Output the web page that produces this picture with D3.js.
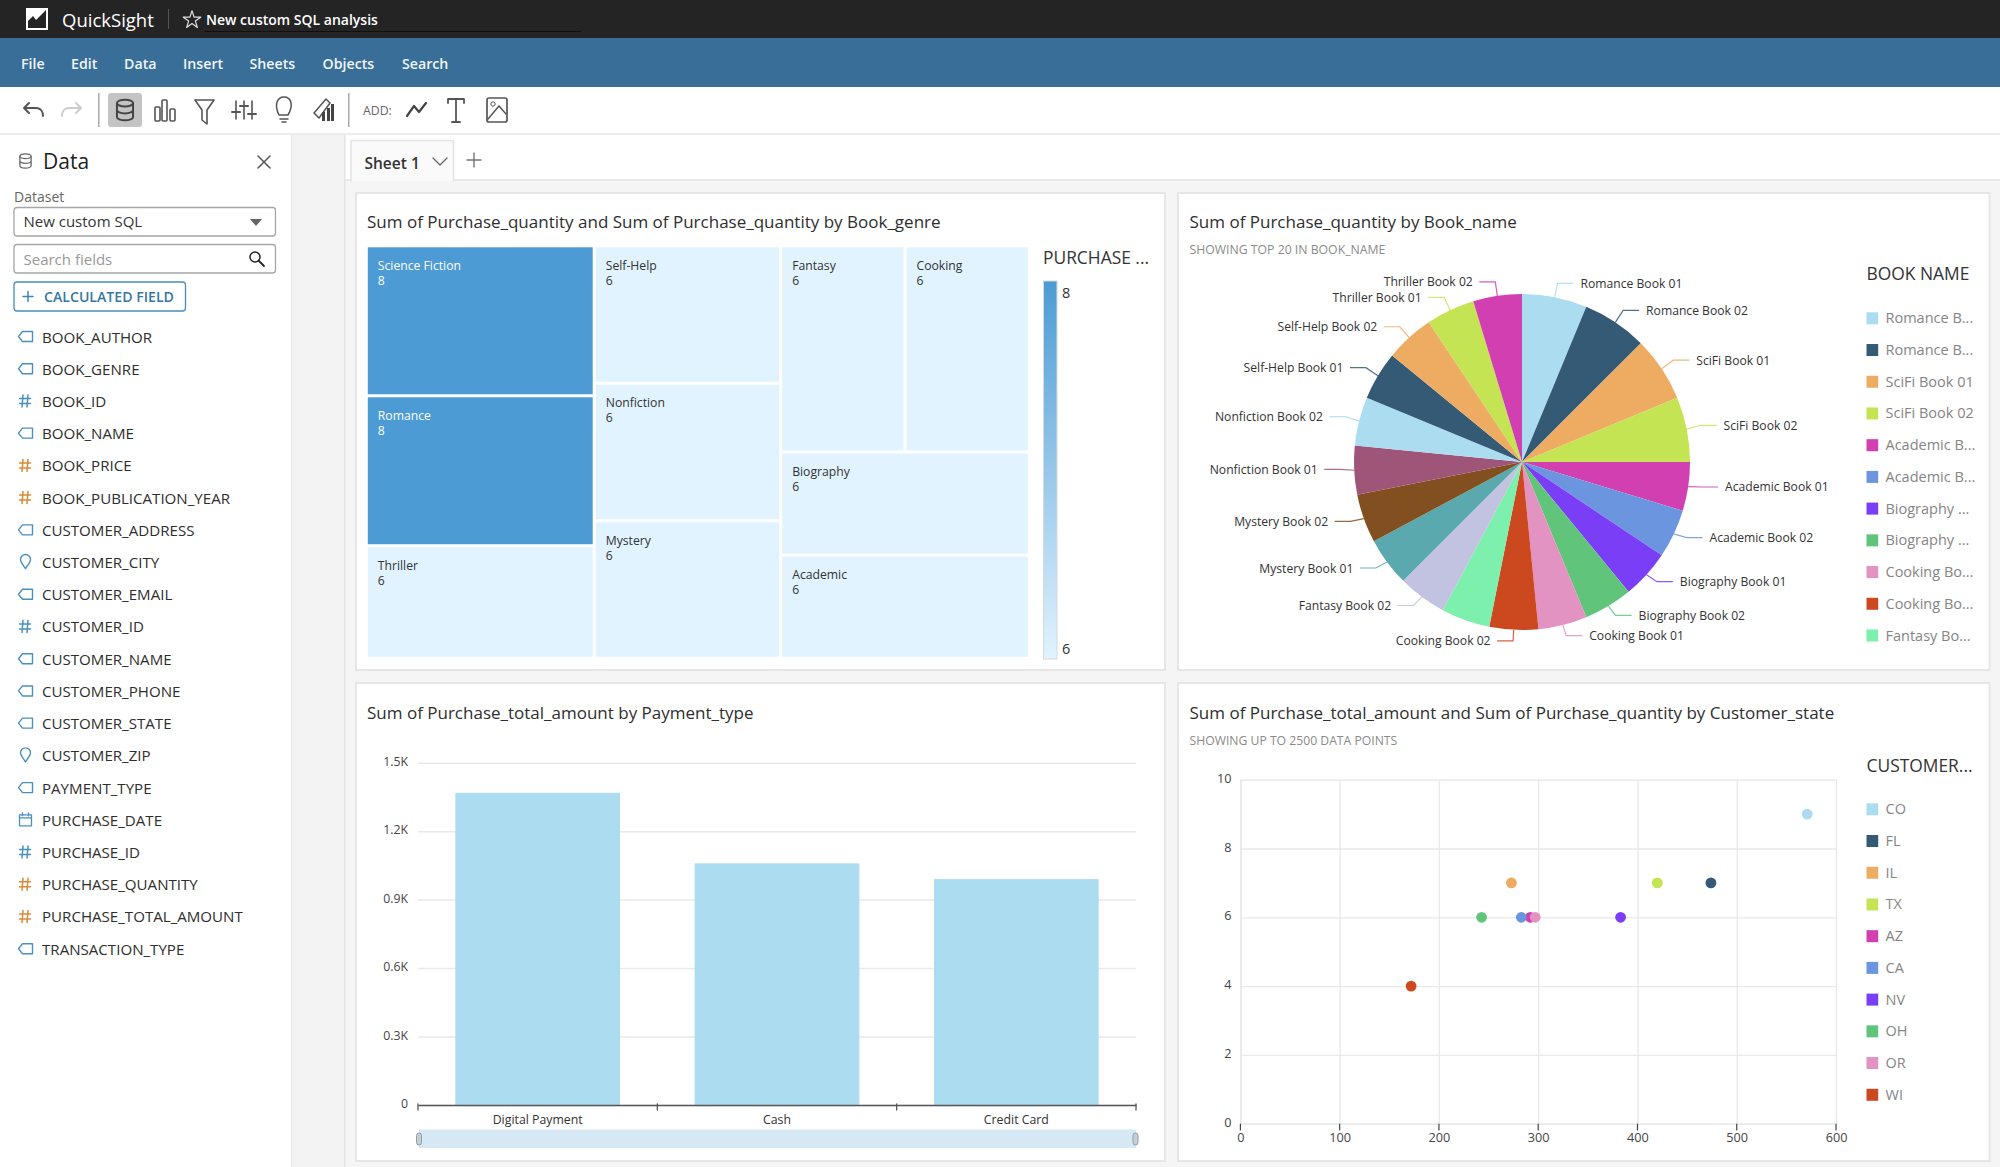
<!DOCTYPE html>
<html><head><meta charset="utf-8">
<script src="https://cdn.jsdelivr.net/npm/d3@7"></script>
<style>html,body{margin:0;padding:0;background:#fff;overflow:hidden}svg{display:block}text{font-family:"Open Sans",sans-serif}</style>
</head><body><svg id="c" width="2000" height="1167"></svg>
<script>
// ---------- data ----------
const menuItems = ["File","Edit","Data","Insert","Sheets","Objects","Search"];
const fieldNames = ["BOOK_AUTHOR","BOOK_GENRE","BOOK_ID","BOOK_NAME","BOOK_PRICE","BOOK_PUBLICATION_YEAR","CUSTOMER_ADDRESS","CUSTOMER_CITY","CUSTOMER_EMAIL","CUSTOMER_ID","CUSTOMER_NAME","CUSTOMER_PHONE","CUSTOMER_STATE","CUSTOMER_ZIP","PAYMENT_TYPE","PURCHASE_DATE","PURCHASE_ID","PURCHASE_QUANTITY","PURCHASE_TOTAL_AMOUNT","TRANSACTION_TYPE"];
const fieldKinds = ["tag","tag","id","tag","num","num","tag","geo","tag","id","tag","tag","tag","geo","tag","date","id","num","num","tag"];

const genreNames = ["Science Fiction","Romance","Thriller","Self-Help","Nonfiction","Mystery","Fantasy","Cooking","Biography","Academic"];
const genreValues = [8,8,6,6,6,6,6,6,6,6];
const genreColumns = [["Science Fiction","Romance","Thriller"],["Self-Help","Nonfiction","Mystery"],[["Fantasy","Cooking"],"Biography","Academic"]];
const genreColorRange = ["#e1f3fe","#4c9bd4"];

const bookNames = ["Romance Book 01","Romance Book 02","SciFi Book 01","SciFi Book 02","Academic Book 01","Academic Book 02","Biography Book 01","Biography Book 02","Cooking Book 01","Cooking Book 02","Fantasy Book 01","Fantasy Book 02","Mystery Book 01","Mystery Book 02","Nonfiction Book 01","Nonfiction Book 02","Self-Help Book 01","Self-Help Book 02","Thriller Book 01","Thriller Book 02"];
const bookValues = [4,4,4,4,3,3,3,3,3,3,3,3,3,3,3,3,3,3,3,3];
const bookColors = ["#acdcf0","#345a75","#eeac63","#c4e454","#d13fb0","#6b95de","#7b3ef7","#60c57a","#e293c1","#cc4920","#7df0ad","#c1c3e0","#59a9af","#814f20","#9f5578","#acdcf0","#345a75","#eeac63","#c4e454","#d13fb0"];
const bookHiddenLabels = ["Fantasy Book 01"];
const bookLegend = ["Romance B...","Romance B...","SciFi Book 01","SciFi Book 02","Academic B...","Academic B...","Biography ...","Biography ...","Cooking Bo...","Cooking Bo...","Fantasy Bo..."];

const paymentTypes = ["Digital Payment","Cash","Credit Card"];
const paymentTotals = [1368,1059,990];
const paymentTicks = [0,300,600,900,1200,1500];
const paymentTickLabels = ["0","0.3K","0.6K","0.9K","1.2K","1.5K"];

const states = ["CO","FL","IL","TX","AZ","CA","NV","OH","OR","WI"];
const stateAmounts = [571,474,273,420,292,283,383,243,297,172];
const stateQuantities = [9,7,7,7,6,6,6,6,6,4];
const stateColors = ["#acdcf0","#345a75","#eeac63","#c4e454","#d13fb0","#6b95de","#7b3ef7","#60c57a","#e293c1","#cc4920"];
const xTicks = [0,100,200,300,400,500,600];
const yTicks = [0,2,4,6,8,10];

// ---------- helpers ----------
const svg = d3.select("#c");
const TXT="#333", SUB="#8a8a8a", GRID="#e9e9e9";
function T(p,x,y,s,o={}){const t=p.append("text").attr("x",x).attr("y",y).attr("dominant-baseline","central")
  .attr("font-size",o.size||13).attr("font-weight",o.w||400).attr("fill",o.fill||TXT).attr("text-anchor",o.a||"start").text(s);
  if(o.fit){t.attr("font-size",(o.size||13)*o.fit/t.node().getComputedTextLength());}
  return t;}
function R(p,x,y,w,h,f,o={}){return p.append("rect").attr("x",x).attr("y",y).attr("width",w).attr("height",h).attr("fill",f)
  .attr("stroke",o.s||"none").attr("stroke-width",o.sw||1).attr("rx",o.r||0);}
function P(p,d,s,sw,f){return p.append("path").attr("d",d).attr("fill",f||"none").attr("stroke",s||"none").attr("stroke-width",sw||1.5).attr("stroke-linejoin","round").attr("stroke-linecap","round");}
function G(p,x,y){return p.append("g").attr("transform",`translate(${x},${y})`);}
function db(p,x,y,c,k,sw){const g=G(p,x,y).attr("stroke",c).attr("fill","none").attr("stroke-width",sw||1.5);
  g.append("ellipse").attr("rx",7*k).attr("ry",3*k).attr("cy",-6*k);
  g.append("path").attr("d",`M${-7*k},${-6*k}V${6*k}A${7*k},${3*k} 0 0 0 ${7*k},${6*k}V${-6*k}M${-7*k},0A${7*k},${3*k} 0 0 0 ${7*k},0`);}

// ---------- chrome ----------
R(svg,0,0,2000,38,"#242424");
R(svg,0,38,2000,49,"#386e97");
R(svg,0,133,2000,2,"#ececec");
R(svg,291,135,53,1032,"#f3f3f3");
R(svg,344,180,1656,987,"#f5f5f5");
R(svg,344,179,1656,2,"#e8e8e8");
R(svg,344,135,1.5,1032,"#e4e4e4");
R(svg,291,135,1.5,1032,"#ececec");
// logo
R(svg,26,8,22,22,"#fff");
P(svg,"M28,28V21L33,16L36,20L46,10V28Z",null,1,"#242424");
T(svg,62,19,"QuickSight",{size:18.5,w:500,fill:"#fff"});
R(svg,168,9,1,20,"#555");
P(svg,d3.symbol(d3.symbolStar).size(95)(),"#ddd",1.2).attr("transform","translate(192,20)");
T(svg,206,19,"New custom SQL analysis",{size:14,w:600,fill:"#fff"});
R(svg,205,31,376,1,"#111");
const menuX=[21,71,124,183,249.5,322.5,402];
menuItems.forEach((m,i)=>T(svg,menuX[i],63.5,m,{size:14.2,w:600,fill:"#f1f5f8"}));

// toolbar
const IC="#555";
P(svg,"M24,108 L29,103 M24,108L29,113 M24,108H36C41,108 43,112 43,116",IC,2);
P(svg,"M81,108L76,103M81,108L76,113M81,108H69C64,108 62,112 62,116","#ccc",2);
R(svg,98,93,1.5,34,"#aaa");
R(svg,108,93,34,34,"#c4c4c4",{r:3});
db(svg,125,110,"#444",1.15,2);
[[155,107,5,14],[162,100,5,21],[170,109,5,12]].forEach(a=>R(svg,a[0],a[1],a[2],a[3],"none",{s:IC,sw:1.6,r:1}));
P(svg,"M195,100H214L207,110V124L202,120V110Z",IC,1.6);
[236,244,252].forEach((x,i)=>{P(svg,`M${x},101V119`,IC,1.6);P(svg,`M${x-4},${[112,106,114][i]}H${x+4}`,IC,2);});
P(svg,"M279,115C274,105 277,97 284,97C291,97 294,105 288,115H279ZM280,119H288M282,122H286",IC,1.5);
P(svg,"M314,113L326,99L330,103L319,118Z",IC,1.5);
[[322,112,3,9],[327,108,3,13],[331,104,3,17]].forEach(a=>R(svg,a[0],a[1],a[2],a[3],"#444"));
R(svg,348,93,1.5,34,"#aaa");
T(svg,363,110.5,"ADD:",{size:12.3,fill:"#666"});
P(svg,"M407,116L414,106L419,112L426,103","#444",2.2);
P(svg,"M448,99H464M448,99V103M464,99V103M456,99V122M452,122H460","#555",1.8);
R(svg,487,98,20,24,"none",{s:IC,sw:1.7,r:2});
P(svg,"M488,119L499,106L506,114",IC,1.5);svg.append("circle").attr("cx",493).attr("cy",104).attr("r",2.2).attr("fill","none").attr("stroke",IC);

// data panel
db(svg,25.5,161,"#666",.8,1.3);
T(svg,43,161,"Data",{size:21,fill:"#222"});
P(svg,"M258,156L270,168M270,156L258,168","#555",1.5);
T(svg,14,196,"Dataset",{size:14,fill:"#666"});
R(svg,14,207.5,261.5,28.5,"#fff",{s:"#a6a6a6",sw:1.3,r:3});
T(svg,23.5,221,"New custom SQL",{size:15,fill:"#333"});
P(svg,"M250,219H262L256,226Z",null,1,"#666");
R(svg,14,244.5,261.5,28.5,"#fff",{s:"#a6a6a6",sw:1.3,r:3});
T(svg,23.5,259,"Search fields",{size:15,fill:"#999"});
svg.append("circle").attr("cx",255).attr("cy",257).attr("r",5).attr("fill","none").attr("stroke","#222").attr("stroke-width",1.5);
P(svg,"M259,261L264,266","#222",1.8);
R(svg,14,282,171.5,29,"#fff",{s:"#4a8db8",sw:1.3,r:3});
P(svg,"M23,296.5H33M28,291.5V301.5","#3f86b5",1.5);
T(svg,44,296,"CALCULATED FIELD",{size:13,w:600,fill:"#36779f",fit:130});
const fy=d3.scaleLinear().domain([0,fieldNames.length-1]).range([336.5,948.7]);
const BL="#4a90bf", OR="#d98a3a";
fieldNames.forEach((n,i)=>{
  const y=fy(i), g=G(svg,25.5,y);
  T(svg,42,y,n,{size:15.1,fill:"#2e2e2e"});
  const k=fieldKinds[i];
  if(k==="tag") P(g,"M-3,-5H7V5H-3L-7,0Z",BL,1.4);
  if(k==="id"||k==="num"){const c=k==="id"?BL:OR;P(g,"M-2.5,-6L-3.5,6M2.5,-6L1.5,6M-6,-2.5H5M-6,2.5H5",c,1.5);}
  if(k==="geo") P(g,"M0,6.5C-3,2 -5,0 -5,-2.5A5,5 0 0 1 5,-2.5C5,0 3,2 0,6.5Z",BL,1.4);
  if(k==="date"){P(g,"M-6,-5H6V6H-6ZM-6,-2H6M-3,-7V-4M3,-7V-4",BL,1.3);}
});

// sheet tab
P(svg,"M351,181V140.5H453.5V181",  "#e4e4e4",1.5,"#fafafa");
T(svg,364.5,162.5,"Sheet 1",{size:15.5,w:600,fill:"#333"});
P(svg,"M433,158L440,165L447,158","#666",1.3);
P(svg,"M474,153V167M467,160H481","#777",1.4);

// panels
[[356,193,809,477],[1178,193,811.5,477],[356,683,809,478],[1178,683,811.5,478]]
  .forEach(a=>R(svg,a[0],a[1],a[2],a[3],"#fff",{s:"#e6e6e6",sw:2}));

const TITLE={size:17,fill:"#2e2e2e"}, SUBT={size:12,fill:SUB}, LEG={size:17.4,fill:"#333"};

// ---------- treemap ----------
T(svg,367,221,"Sum of Purchase_quantity and Sum of Purchase_quantity by Book_genre",TITLE);
const valueOf=n=>genreValues[genreNames.indexOf(n)];
const toNode=c=>Array.isArray(c)?{children:c.map(toNode)}:{name:c,value:valueOf(c)};
const root=d3.hierarchy({children:genreColumns.map(toNode)}).sum(d=>d.value||0);
d3.treemap().size([660,409.4]).paddingInner(3).tile((n,a,b,c,d)=>(n.depth%2?d3.treemapSlice:d3.treemapDice)(n,a,b,c,d))(root);
const tmColor=d3.scaleLinear().domain([6,8]).range(genreColorRange);
const tm=G(svg,367.8,247.3);
const cell=tm.selectAll("g").data(root.leaves()).join("g").attr("transform",d=>`translate(${d.x0},${d.y0})`);
cell.append("rect").attr("width",d=>d.x1-d.x0).attr("height",d=>d.y1-d.y0).attr("fill",d=>tmColor(d.data.value));
cell.each(function(d){const g=d3.select(this),c=d.data.value>6?"#fff":"#333";
  T(g,10,18,d.data.name,{size:12.2,fill:c});T(g,10,33,d.data.value,{size:12.2,fill:c});});
T(svg,1043,256.5,"PURCHASE ...",LEG);
const defs=svg.append("defs"),lg=defs.append("linearGradient").attr("id","tmg").attr("x1",0).attr("x2",0).attr("y1",0).attr("y2",1);
lg.append("stop").attr("offset",0).attr("stop-color",genreColorRange[1]);
lg.append("stop").attr("offset",1).attr("stop-color",genreColorRange[0]);
R(svg,1043.5,281,13.5,378,"url(#tmg)",{s:"#d8d8d8",sw:1});
T(svg,1062,292,d3.max(genreValues),{size:14.5});
T(svg,1062,648,d3.min(genreValues),{size:14.5});

// ---------- pie ----------
T(svg,1189.5,221,"Sum of Purchase_quantity by Book_name",TITLE);
T(svg,1189.5,249.5,"SHOWING TOP 20 IN BOOK_NAME",{...SUBT,fit:196});
const pieR=168, pg=G(svg,1522,462);
const pieData=d3.pie().sort(null).value(d=>d)(bookValues);
const arc=d3.arc().innerRadius(0).outerRadius(pieR);
pg.selectAll("path.s").data(pieData).join("path").attr("class","s").attr("d",arc).attr("fill",(d,i)=>bookColors[i]);
const rim=d3.arc().innerRadius(pieR).outerRadius(pieR), elb=d3.arc().innerRadius(pieR+14).outerRadius(pieR+14), elbY=d3.arc().innerRadius(pieR+12.5).outerRadius(pieR+12.5);
pieData.forEach((d,i)=>{
  if(bookHiddenLabels.includes(bookNames[i]))return;
  const a=rim.centroid(d),b=elb.centroid(d),right=b[0]>=0,e=b[0]+(right?16:-16),ey=elbY.centroid(d)[1]-1.5;
  pg.append("path").attr("d",d3.line()([a,[b[0],ey],[e,ey]])).attr("fill","none").attr("stroke",bookColors[i]).attr("stroke-opacity",.85).attr("stroke-width",1.2);
  T(pg,e+(right?7:-6.5),ey,bookNames[i],{size:12.15,a:right?"start":"end",fill:"#333"});
});
T(svg,1866.5,273,"BOOK NAME",LEG);
function legend(labels,colors,y0){labels.forEach((l,i)=>{const y=y0+i*31.72;
  R(svg,1866.5,y-6,11.7,12,colors[i]);T(svg,1885.5,y-.5,l,{size:14.5,fill:"#858585"});});}
legend(bookLegend,bookColors,318.3);

// ---------- bars ----------
T(svg,367,712.5,"Sum of Purchase_total_amount by Payment_type",TITLE);
const bx=d3.scaleBand().domain(paymentTypes).range([418,1136]).paddingInner(.312).paddingOuter(.156);
const by=d3.scaleLinear().domain([0,1500]).range([1105,762.7]);
const ya=svg.append("g").attr("transform","translate(418,0)").call(d3.axisLeft(by).tickValues(paymentTicks).tickSize(-718).tickPadding(10).tickFormat((d,i)=>paymentTickLabels[i]));
ya.select(".domain").remove();ya.selectAll("line").attr("stroke",GRID).attr("stroke-width",1.5);
ya.selectAll("text").attr("font-size",12.3).attr("fill","#444").attr("dy","0.2em").style("font-family",'"Open Sans",sans-serif');
svg.append("g").selectAll("rect").data(paymentTypes).join("rect").attr("x",d=>bx(d)).attr("width",bx.bandwidth())
  .attr("y",(d,i)=>by(paymentTotals[i])).attr("height",(d,i)=>by(0)-by(paymentTotals[i])).attr("fill","#acdcf0");
const xa=svg.append("g").attr("transform","translate(0,1105)").call(d3.axisBottom(bx).tickSize(0).tickPadding(10.5));
xa.select(".domain").attr("stroke","#555").attr("stroke-width",1.5);
xa.selectAll("text").attr("font-size",12.3).attr("fill","#333").style("font-family",'"Open Sans",sans-serif');
paymentTypes.concat([null]).forEach((d,i)=>{const x=418+i*bx.step();P(svg,`M${x},1104V1110`,"#555",1.3);});
R(svg,419,1129.5,717,18.5,"#d7e8f5");
[419,1135.5].forEach(x=>R(svg,x-2.5,1133,5,12,"#c6ced3",{s:"#8fa0aa",sw:1,r:2.5}));

// ---------- scatter ----------
T(svg,1189.5,712.5,"Sum of Purchase_total_amount and Sum of Purchase_quantity by Customer_state",TITLE);
T(svg,1189.5,740.5,"SHOWING UP TO 2500 DATA POINTS",{...SUBT,fit:208});
const sx=d3.scaleLinear().domain([0,600]).range([1240.4,1836]);
const sy=d3.scaleLinear().domain([0,10]).range([1123.7,779.7]);
const sya=svg.append("g").attr("transform","translate(1240.4,0)").call(d3.axisLeft(sy).tickValues(yTicks).tickSize(-595.6).tickPadding(9));
sya.select(".domain").attr("stroke",GRID);sya.selectAll("line").attr("stroke",GRID).attr("stroke-width",1.3);
const sxa=svg.append("g").attr("transform","translate(0,1123.7)").call(d3.axisBottom(sx).tickValues(xTicks).tickSize(-344).tickPadding(9));
sxa.select(".domain").attr("stroke",GRID);sxa.selectAll("line").attr("stroke",GRID).attr("stroke-width",1.3);
xTicks.forEach(t=>P(svg,`M${sx(t)},1124V1130`,"#444",1.2));
[sya,sxa].forEach(a=>a.selectAll("text").attr("font-size",12.7).attr("fill","#444").style("font-family",'"Open Sans",sans-serif'));
sya.selectAll("text").attr("dy","0.2em");
svg.append("g").selectAll("circle").data(states).join("circle")
  .attr("cx",(d,i)=>sx(stateAmounts[i])).attr("cy",(d,i)=>sy(stateQuantities[i])).attr("r",5.4).attr("fill",(d,i)=>stateColors[i]);
T(svg,1866.5,765,"CUSTOMER...",LEG);
legend(states,stateColors,809.3);
</script></body></html>
